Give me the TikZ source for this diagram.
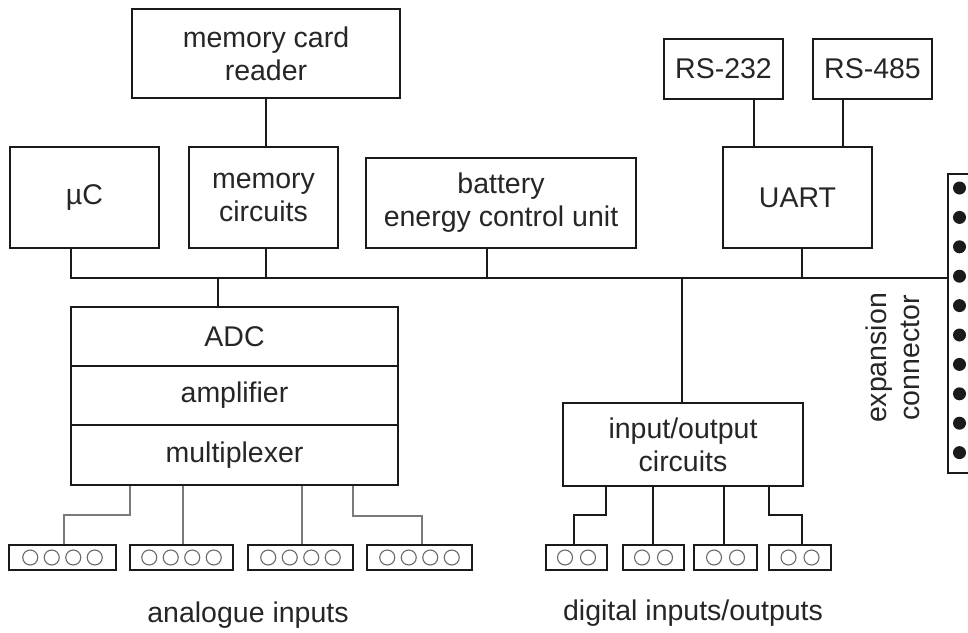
\documentclass[tikz,border=0pt]{standalone}
\usepackage{fontspec}
\setmainfont{Liberation Sans}
\usetikzlibrary{calc}
\definecolor{ink}{HTML}{1A1A1A}
\definecolor{txt}{HTML}{262626}
\definecolor{gline}{HTML}{7A7A7A}
\definecolor{pin}{HTML}{6A6A6A}
\begin{document}
\begin{tikzpicture}[x=1pt,y=-1pt,
  font=\fontsize{28.5}{33}\selectfont,
  box/.style={draw=ink, line width=1.6pt, inner sep=0pt, align=center, text=txt},
  ln/.style={draw=ink, line width=1.6pt},
  aln/.style={draw=gline, line width=1.6pt},
  conn/.style={draw=ink, line width=1.6pt, inner sep=0pt, minimum height=25pt},
  pinc/.style={draw=pin, line width=1.1pt},
  lbl/.style={text=txt, align=center, inner sep=0pt}]
\useasboundingbox[fill=white] (0,0) rectangle (968,632);

% boxes
\node[box, minimum width=268pt, minimum height=89pt] (mcr) at (266,53.5) {memory card\\reader};
\node[box, minimum width=149pt, minimum height=101pt] (uc) at (84.5,197.5) {µC};
\node[box, minimum width=149pt, minimum height=101pt] (mem) at (263.5,197.5) {memory\\circuits};
\node[box, minimum width=270pt, minimum height=90pt] (bat) at (501,203) {battery\\energy control unit};
\node[box, minimum width=149pt, minimum height=101pt] (uart) at (797.5,197.5) {UART};
\node[box, minimum width=119pt, minimum height=60pt] (rs232) at (723.5,69) {RS-232};
\node[box, minimum width=119pt, minimum height=60pt] (rs485) at (872.5,69) {RS-485};
\node[box, minimum width=327pt, minimum height=59pt] (adc) at (234.5,336.5) {ADC};
\node[box, minimum width=327pt, minimum height=59pt] (amp) at (234.5,395.5) {amplifier};
\node[box, minimum width=327pt, minimum height=60pt] (mux) at (234.5,455) {multiplexer};
\node[box, minimum width=240pt, minimum height=83pt] (io) at (683,444.5) {input/output\\circuits};
\node[draw=ink, line width=1.6pt, minimum width=40pt, minimum height=299pt, inner sep=0pt, anchor=north west] (exp) at (947,173) {};
\foreach \i in {0,...,9} \fill[ink] (959.5,188+\i*29.4) circle (6.5pt);
\node[lbl, rotate=90] (explbl) at (893,358) {expansion\\connector};

% bus and top links
\coordinate (bus) at (0,278);
\draw[ln] (mcr.south) -- (mcr.south |- mem.north);
\coordinate (t232) at ($(rs232.south)+(30.5,0)$);
\draw[ln] (t232) -- (t232 |- uart.north);
\coordinate (t485) at ($(rs485.south)+(-29.5,0)$);
\draw[ln] (t485) -- (t485 |- uart.north);
\coordinate (tuc) at ($(uc.south)+(-13.5,0)$);
\draw[ln] (tuc) |- (exp.west |- bus);
\coordinate (tmem) at ($(mem.south)+(2.5,0)$);
\draw[ln] (tmem) -- (tmem |- bus);
\coordinate (tbat) at ($(bat.south)+(-14,0)$);
\draw[ln] (tbat) -- (tbat |- bus);
\coordinate (tuart) at ($(uart.south)+(4.5,0)$);
\draw[ln] (tuart) -- (tuart |- bus);
\coordinate (tadc) at ($(adc.north)+(-16.5,0)$);
\draw[ln] (tadc |- bus) -- (tadc);
\coordinate (tio) at ($(io.north)+(-1,0)$);
\draw[ln] (tio |- bus) -- (tio);

% analogue connectors
\node[conn, minimum width=107pt] (a1) at (62.5,557.5) {};
\node[conn, minimum width=103pt] (a2) at (181.5,557.5) {};
\node[conn, minimum width=105pt] (a3) at (300.5,557.5) {};
\node[conn, minimum width=105pt] (a4) at (419.5,557.5) {};
\foreach \n in {a1,a2,a3,a4}
  \foreach \dx in {-32.25,-10.75,10.75,32.25}
    \draw[pinc] ($(\n.center)+(\dx,0)$) circle (7.5pt);

% digital connectors
\node[conn, minimum width=61pt] (d1) at (576.5,557.5) {};
\node[conn, minimum width=61pt] (d2) at (653.5,557.5) {};
\node[conn, minimum width=63pt] (d3) at (725.5,557.5) {};
\node[conn, minimum width=62pt] (d4) at (800,557.5) {};
\foreach \n in {d1,d2,d3,d4}
  \foreach \dx in {-11.5,11.5}
    \draw[pinc] ($(\n.center)+(\dx,0)$) circle (7.5pt);

% analogue links
\draw[aln] ($(mux.south)+(-104.5,0)$) -- ++(0,29) -| ($(a1.north)+(1.5,0)$);
\coordinate (ta2) at ($(a2.north)+(1.5,0)$);
\draw[aln] (ta2 |- mux.south) -- (ta2);
\coordinate (ta3) at ($(a3.north)+(1.5,0)$);
\draw[aln] (ta3 |- mux.south) -- (ta3);
\draw[aln] ($(mux.south)+(118.5,0)$) -- ++(0,30) -| ($(a4.north)+(2.5,0)$);

% digital links
\draw[ln] ($(io.south)+(-77,0)$) -- ++(0,28) -| ($(d1.north)+(-2.5,0)$);
\coordinate (td2) at ($(d2.north)+(-0.3,0)$);
\draw[ln] (td2 |- io.south) -- (td2);
\coordinate (td3) at ($(d3.north)+(-1.5,0)$);
\draw[ln] (td3 |- io.south) -- (td3);
\draw[ln] ($(io.south)+(86,0)$) -- ++(0,28) -| ($(d4.north)+(2,0)$);

% captions
\node[lbl] (albl) at (248,615) {analogue inputs};
\node[lbl] (dlbl) at (693,613) {digital inputs/outputs};
\end{tikzpicture}
\end{document}
